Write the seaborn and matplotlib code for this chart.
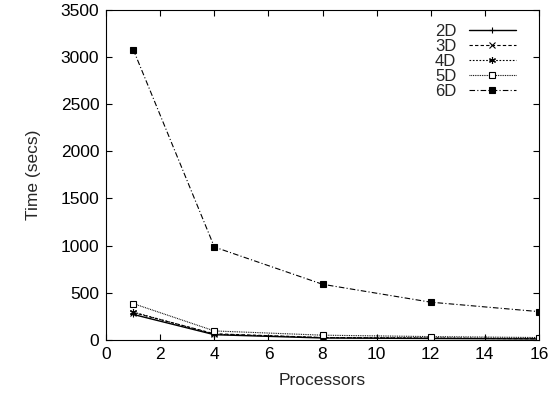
import matplotlib
matplotlib.use("Agg")
import matplotlib.pyplot as plt
import seaborn as sns
import pandas as pd

processors = [1, 4, 8, 12, 16]
t2d = [270, 55, 20, 15, 10]
t3d = [290, 65, 25, 18, 12]
t4d = [295, 60, 25, 20, 15]
t5d = [385, 95, 50, 35, 25]
t6d = [3080, 985, 590, 400, 300]
labels = ["2D", "3D", "4D", "5D", "6D"]

sns.set_style("ticks")
plt.rcParams['font.family'] = ['Liberation Sans', 'DejaVu Sans']

fig = plt.figure(figsize=(5.59, 3.98), dpi=100)
ax = fig.add_axes([0.19, 0.146, 0.774, 0.829])

series = [t2d, t3d, t4d, t5d, t6d]
styles = [
    dict(linestyle='-', marker='+', markersize=5, markerfacecolor='black', lw=1.0),
    dict(linestyle=(0, (3, 2)), marker='x', markersize=4, markerfacecolor='black', lw=0.8),
    dict(linestyle=(0, (1.5, 1.5)), marker=(6, 2, 0), markersize=5, markerfacecolor='black', lw=0.8),
    dict(linestyle=(0, (0.8, 0.8)), marker='s', markersize=5, markerfacecolor='white', lw=0.8),
    dict(linestyle=(0, (5, 2, 1, 2)), marker='s', markersize=5, markerfacecolor='black', lw=0.8),
]
for lab, vals, st in zip(labels, series, styles):
    df = pd.DataFrame({"Processors": processors, "Time": vals})
    sns.lineplot(data=df, x="Processors", y="Time", ax=ax, color='black',
                 markeredgecolor='black', markeredgewidth=0.8, label=lab, **st)

ax.set_xlim(0, 16)
ax.set_ylim(0, 3500)
ax.set_xticks(range(0, 17, 2))
ax.set_yticks(range(0, 3501, 500))
ax.tick_params(direction='in', top=True, right=True, labelsize=12.5, length=4,
               colors='black', pad=5)
ax.set_xlabel("Processors", fontsize=12.5, labelpad=8)
ax.set_ylabel("Time (secs)", fontsize=12.5, labelpad=14)
for s in ax.spines.values():
    s.set_linewidth(0.8)
    s.set_color('black')
leg = ax.legend(loc='upper right', bbox_to_anchor=(0.963, 0.978), frameon=False,
                markerfirst=False, fontsize=12, handlelength=2.85, labelspacing=0.0,
                borderaxespad=0, handletextpad=0.75)
fig.savefig("out.png", dpi=100)
